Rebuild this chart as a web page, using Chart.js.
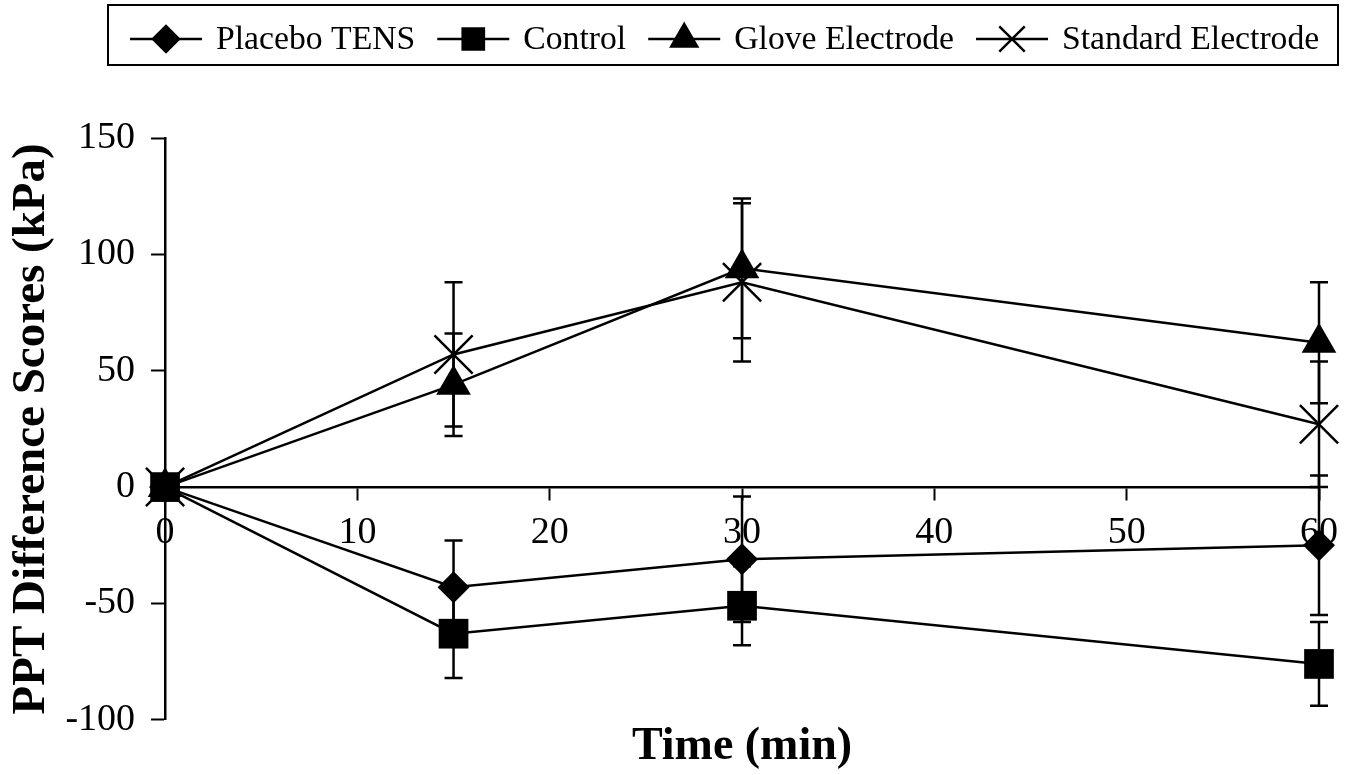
<!DOCTYPE html>
<html>
<head>
<meta charset="utf-8">
<title>PPT Difference Scores</title>
<script src="https://cdn.jsdelivr.net/npm/chart.js@4.4.0/dist/chart.umd.min.js"></script>
<style>
    html, body { margin: 0; padding: 0; background: #fff; }
    #wrap { width: 1349px; height: 775px; }
</style>
</head>
<body>
<div id="wrap"><canvas id="pptChart" width="1349" height="775"></canvas></div>
<script>
// Time points (min) and the four groups, means and error bar half-lengths (kPa)
const timePoints = [0, 15, 30, 60];
const seriesNames = ['Placebo TENS', 'Control', 'Glove Electrode', 'Standard Electrode'];

const placeboMean = [0, -43, -31, -25];
const placeboErr = [0, 20, 27, 30];
const controlMean = [0, -63, -51, -76];
const controlErr = [0, 19, 17, 18];
const gloveMean = [0, 44, 94, 62];
const gloveErr = [0, 22, 30, 26];
const standardMean = [0, 57, 88, 27];
const standardErr = [0, 31, 34, 27];

const xTicks = [0, 10, 20, 30, 40, 50, 60];
const yTicks = [-100, -50, 0, 50, 100, 150];

const FONT = '"Liberation Serif", "Times New Roman", serif';

function toPoints(means) {
    return timePoints.map((t, i) => ({ x: t, y: means[i] }));
}

function makeSeries(label, means, errs, style, radius, legendRadius) {
    return {
        label: label,
        data: toPoints(means),
        errors: errs,
        borderColor: '#000',
        backgroundColor: '#000',
        borderWidth: 2.5,
        tension: 0,
        pointStyle: style,
        pointRadius: radius,
        pointBorderWidth: style === 'crossRot' ? 2.5 : 0,
        pointBackgroundColor: '#000',
        pointBorderColor: '#000',
        legendRadius: legendRadius,
        legendOrder: seriesNames.indexOf(label),
        clip: false
    };
}

// vertical error bars with small caps, drawn through the chart's own scales
const errorBars = {
    id: 'errorBars',
    beforeDatasetsDraw(chart) {
        const { ctx, scales } = chart;
        ctx.save();
        ctx.strokeStyle = '#000';
        ctx.lineWidth = 2.5;
        chart.data.datasets.forEach(ds => {
            ds.errors.forEach((err, i) => {
                if (!err) return;
                const px = scales.x.getPixelForValue(ds.data[i].x);
                const top = scales.y.getPixelForValue(ds.data[i].y + err);
                const bot = scales.y.getPixelForValue(ds.data[i].y - err);
                ctx.beginPath();
                ctx.moveTo(px, top);
                ctx.lineTo(px, bot);
                ctx.moveTo(px - 9, top);
                ctx.lineTo(px + 9, top);
                ctx.moveTo(px - 9, bot);
                ctx.lineTo(px + 9, bot);
                ctx.stroke();
            });
        });
        ctx.restore();
    }
};

// boxed legend across the top: line + marker then the label
const boxLegend = {
    id: 'boxLegend',
    afterDraw(chart) {
        const ctx = chart.ctx;
        const y = 39;
        let x = 130;
        ctx.save();
        ctx.strokeStyle = '#000';
        ctx.fillStyle = '#000';
        ctx.lineWidth = 2;
        ctx.strokeRect(108, 5, 1230, 60);
        ctx.font = '33.7px ' + FONT;
        ctx.textBaseline = 'middle';
        ctx.textAlign = 'left';
        const ordered = chart.data.datasets.slice().sort((a, b) => a.legendOrder - b.legendOrder);
        ordered.forEach(ds => {
            ctx.lineWidth = 2.5;
            ctx.beginPath();
            ctx.moveTo(x, y);
            ctx.lineTo(x + 72, y);
            ctx.stroke();
            Chart.helpers.drawPoint(ctx, {
                pointStyle: ds.pointStyle,
                radius: ds.legendRadius,
                borderWidth: 2.5,
                rotation: 0
            }, x + 36, y);
            ctx.fillText(ds.label, x + 86, y + 1);
            x += 86 + ctx.measureText(ds.label).width + 22;
        });
        ctx.restore();
    }
};

const ctx = document.getElementById('pptChart');

new Chart(ctx, {
    type: 'line',
    data: {
        datasets: [
            makeSeries(seriesNames[0], placeboMean, placeboErr, 'rectRot', 16, 13),
            makeSeries(seriesNames[2], gloveMean, gloveErr, 'triangle', 20, 15),
            makeSeries(seriesNames[3], standardMean, standardErr, 'crossRot', 27, 18),
            makeSeries(seriesNames[1], controlMean, controlErr, 'rect', 21, 15)
        ]
    },
    options: {
        responsive: false,
        animation: false,
        events: [],
        layout: {
            padding: { top: 138, right: 30, bottom: 0, left: 0 }
        },
        plugins: {
            legend: { display: false },
            tooltip: { enabled: false },
            title: {
                display: true,
                text: 'Time (min)',
                position: 'bottom',
                fullSize: false,
                color: '#000',
                padding: { top: 0, bottom: 0 },
                font: { family: FONT, size: 46, weight: 'bold' }
            }
        },
        scales: {
            x: {
                type: 'linear',
                position: { y: 0 },
                min: xTicks[0],
                max: xTicks[xTicks.length - 1],
                afterBuildTicks: axis => { axis.ticks = xTicks.map(v => ({ value: v })); },
                border: { display: true, color: '#000', width: 2.5 },
                grid: { display: true, drawOnChartArea: false, drawTicks: true, tickLength: 12, tickColor: '#000', tickWidth: 2 },
                ticks: {
                    color: '#000',
                    padding: 11,
                    maxRotation: 0,
                    font: { family: FONT, size: 38 }
                }
            },
            y: {
                min: yTicks[0],
                max: yTicks[yTicks.length - 1],
                afterBuildTicks: axis => { axis.ticks = yTicks.map(v => ({ value: v })); },
                border: { display: true, color: '#000', width: 2.5 },
                grid: { display: true, drawOnChartArea: false, drawTicks: true, tickLength: 14, tickColor: '#000', tickWidth: 2 },
                ticks: {
                    color: '#000',
                    padding: 16,
                    font: { family: FONT, size: 38 }
                },
                title: {
                    display: true,
                    text: 'PPT Difference Scores (kPa)',
                    color: '#000',
                    padding: { top: 4, bottom: -11 },
                    font: { family: FONT, size: 47, weight: 'bold' }
                }
            }
        }
    },
    plugins: [errorBars, boxLegend]
});
</script>
</body>
</html>
